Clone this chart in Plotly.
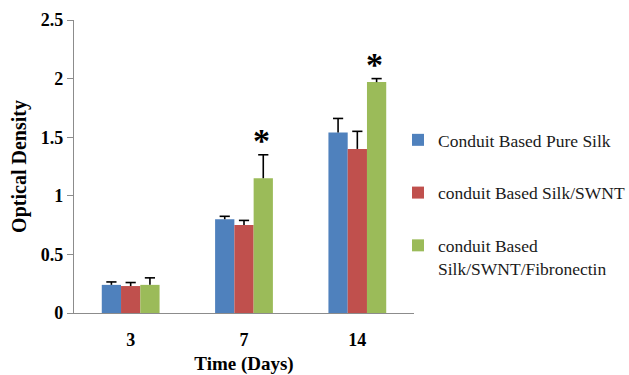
import plotly.graph_objects as go

# Cell viability (optical density) of nerve conduits over culture time
days = ["3", "7", "14"]
series_names = [
    "Conduit Based Pure Silk",
    "conduit Based Silk/SWNT",
    "conduit Based<br>Silk/SWNT/Fibronectin",
]
pure_silk = [0.24, 0.80, 1.54]
silk_swnt = [0.23, 0.75, 1.40]
silk_swnt_fn = [0.24, 1.15, 1.97]
pure_silk_err = [0.025, 0.025, 0.12]
silk_swnt_err = [0.03, 0.04, 0.15]
silk_swnt_fn_err = [0.06, 0.20, 0.03]
# groups marked as significant (index into days)
significant = [1, 2]

colors = ["#4F81BD", "#C0504D", "#9BBB59"]
values = [pure_silk, silk_swnt, silk_swnt_fn]
errors = [pure_silk_err, silk_swnt_err, silk_swnt_fn_err]

W, H = 629, 375
ML, MR, MT, MB = 74, 215, 20, 62
GROUP_FRAC = 0.51           # share of each category slot filled by bars
BAR_W = GROUP_FRAC / 3      # bar width in category units
CAP = 0.045                 # half-width of error-bar caps, category units

pos = list(range(len(days)))
fig = go.Figure()
for i, (name, vals, errs, col) in enumerate(zip(series_names, values, errors, colors)):
    off = (i - 1) * BAR_W
    xs = [p + off for p in pos]
    fig.add_trace(go.Bar(
        x=xs, y=vals, width=BAR_W, name=name, legendgroup=f"g{i}",
        marker=dict(color=col, line=dict(width=0)),
    ))
    # one-sided (upper) error bars: stem from bar top plus a cap
    ex, ey = [], []
    for x, v, e in zip(xs, vals, errs):
        ex += [x, x, None, x - CAP, x + CAP, None]
        ey += [v, v + e, None, v + e, v + e, None]
    fig.add_trace(go.Scatter(
        x=ex, y=ey, mode="lines", showlegend=False, hoverinfo="skip",
        legendgroup=f"g{i}", line=dict(color="black", width=1.6),
    ))

# asterisks above the fibronectin bars
for k in significant:
    top = silk_swnt_fn[k] + silk_swnt_fn_err[k]
    fig.add_annotation(x=pos[k] + BAR_W, y=top, xref="x", yref="y",
                       yshift=-6, xshift=-2, text="<b>*</b>",
                       showarrow=False, yanchor="bottom",
                       font=dict(family="Liberation Serif", size=34, color="black"))

fig.update_layout(
    width=W, height=H,
    margin=dict(l=ML, r=MR, t=MT, b=MB, autoexpand=False),
    paper_bgcolor="white", plot_bgcolor="white",
    barmode="overlay",
    font=dict(family="Liberation Serif", color="black"),
    showlegend=True,
    legend=dict(x=0.953, y=0.652, xanchor="left", yanchor="top",
                font=dict(family="Liberation Serif", size=17.5, color="#1a1a1a"),
                tracegroupgap=27, itemwidth=30, traceorder="grouped",
                valign="top", bgcolor="rgba(0,0,0,0)"),
    xaxis=dict(
        range=[-0.5, len(days) - 0.5],
        tickmode="array", tickvals=pos, ticktext=[f"<b>{d}</b>" for d in days],
        showline=True, linecolor="#8c8c8c", linewidth=1.2,
        ticks="outside", ticklen=10, tickcolor="rgba(0,0,0,0)",
        showgrid=False, zeroline=False,
        tickfont=dict(family="Liberation Serif", size=18, color="black"),
        title=dict(text="<b>Time (Days)</b>", standoff=8,
                   font=dict(family="Liberation Serif", size=19, color="black")),
    ),
    yaxis=dict(
        range=[0, 2.5], dtick=0.5, showline=True, linecolor="#8c8c8c",
        linewidth=1.2, ticks="outside", ticklen=6, tickcolor="#8c8c8c",
        showgrid=False, zeroline=False,
        tickprefix="<b>", ticksuffix="</b>",
        tickfont=dict(family="Liberation Serif", size=18, color="black"),
        title=dict(text="<b>Optical Density</b>", standoff=8,
                   font=dict(family="Liberation Serif", size=20, color="black")),
    ),
)

fig.write_html("out.html")
